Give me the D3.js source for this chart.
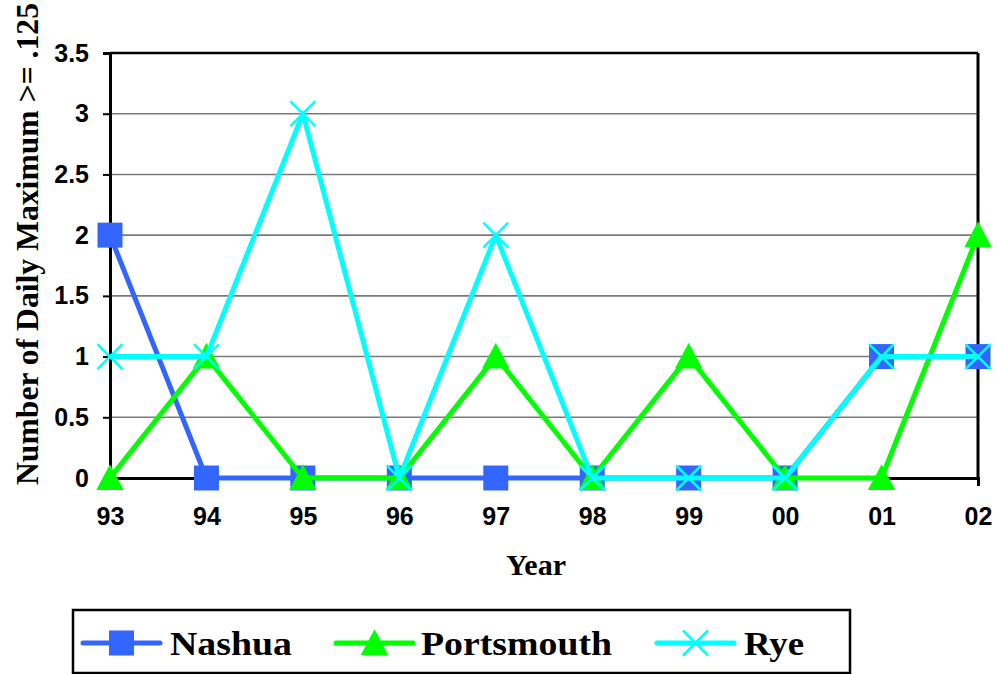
<!DOCTYPE html>
<html>
<head>
<meta charset="utf-8">
<script src="https://cdn.jsdelivr.net/npm/d3@7"></script>
<style>
  html, body { margin: 0; padding: 0; background: #fff; }
  svg { display: block; }
</style>
</head>
<body>
<svg id="chart" width="998" height="674"></svg>
<script>
const categories = ["93", "94", "95", "96", "97", "98", "99", "00", "01", "02"];
const nashua     = [2, 0, 0, 0, 0, 0, 0, 0, 1, 1];
const portsmouth = [0, 1, 0, 0, 1, 0, 1, 0, 0, 2];
const rye        = [1, 1, 3, 0, 2, 0, 0, 0, 1, 1];
const yTicks = [0, 0.5, 1, 1.5, 2, 2.5, 3, 3.5];
const yTickLabels = ["0", "0.5", "1", "1.5", "2", "2.5", "3", "3.5"];
const seriesNames = ["Nashua", "Portsmouth", "Rye"];

const series = [
  { name: seriesNames[0], values: nashua, color: "#3366FF", marker: "square" },
  { name: seriesNames[1], values: portsmouth, color: "#00FF00", marker: "triangle" },
  { name: seriesNames[2], values: rye, color: "#00FFFF", marker: "x" }
];

const svg = d3.select("#chart");
const L = 110, R = 978, T = 53, B = 478;

const x = d3.scalePoint().domain(categories).range([L, R]).padding(0);
const y = d3.scaleLinear().domain([0, 3.5]).range([B, T]);

// gridlines
svg.append("g").selectAll("line").data(yTicks.filter(d => d > 0 && d < 3.5)).join("line")
  .attr("x1", L).attr("x2", R)
  .attr("y1", d => y(d)).attr("y2", d => y(d))
  .attr("stroke", "#7a7a7a").attr("stroke-width", 1.6);

// top and right border
svg.append("line").attr("x1", L).attr("x2", R).attr("y1", y(3.5)).attr("y2", y(3.5))
  .attr("stroke", "#000").attr("stroke-width", 2.5);
svg.append("line").attr("x1", R).attr("x2", R).attr("y1", T).attr("y2", B)
  .attr("stroke", "#000").attr("stroke-width", 3);

// y axis
const yAxis = d3.axisLeft(y).tickValues(yTicks)
  .tickFormat((d, i) => yTickLabels[i]).tickSize(7).tickPadding(14);
const gy = svg.append("g").attr("transform", `translate(${L},0)`).call(yAxis);
gy.select(".domain").attr("stroke", "#000").attr("stroke-width", 3);
gy.selectAll(".tick line").attr("stroke", "#000").attr("stroke-width", 2);
gy.selectAll(".tick text")
  .attr("font-family", "'Liberation Sans', Arial, sans-serif")
  .attr("font-weight", "bold").attr("font-size", 25).attr("fill", "#000");

// x axis
const xAxis = d3.axisBottom(x).tickSize(8).tickPadding(21);
const gx = svg.append("g").attr("transform", `translate(0,${B})`).call(xAxis);
gx.select(".domain").attr("stroke", "#000").attr("stroke-width", 3);
gx.selectAll(".tick line").attr("stroke", "#000").attr("stroke-width", 3);
gx.selectAll(".tick text")
  .attr("font-family", "'Liberation Sans', Arial, sans-serif")
  .attr("font-weight", "bold").attr("font-size", 25).attr("fill", "#000");

// titles
svg.append("text")
  .attr("transform", `translate(38,485) rotate(-90)`)
  .attr("text-anchor", "start")
  .attr("font-family", "'Liberation Serif', 'Times New Roman', serif")
  .attr("font-weight", "bold").attr("font-size", 31).attr("fill", "#000")
  .attr("textLength", 482).attr("lengthAdjust", "spacingAndGlyphs")
  .text("Number of Daily Maximum >= .125");

svg.append("text")
  .attr("x", 536).attr("y", 575)
  .attr("text-anchor", "middle")
  .attr("font-family", "'Liberation Serif', 'Times New Roman', serif")
  .attr("font-weight", "bold").attr("font-size", 30).attr("fill", "#000")
  .text("Year");

function drawMarker(g, type, cx, cy, color, s) {
  if (type === "square") {
    g.append("rect").attr("x", cx - s / 2).attr("y", cy - s / 2)
      .attr("width", s).attr("height", s).attr("fill", color);
  } else if (type === "triangle") {
    const h = s;
    g.append("path")
      .attr("d", `M${cx},${cy - h * 0.55} L${cx + s * 0.55},${cy + h * 0.48} L${cx - s * 0.55},${cy + h * 0.48} Z`)
      .attr("fill", color);
  } else {
    const r = s / 2;
    g.append("path")
      .attr("d", `M${cx - r},${cy - r} L${cx + r},${cy + r} M${cx - r},${cy + r} L${cx + r},${cy - r}`)
      .attr("stroke", color).attr("stroke-width", 2.5).attr("fill", "none");
  }
}

const line = d3.line().x((d, i) => x(categories[i])).y(d => y(d));

series.forEach(s => {
  const g = svg.append("g");
  g.append("path").datum(s.values).attr("d", line)
    .attr("fill", "none").attr("stroke", s.color).attr("stroke-width", 5)
    .attr("stroke-linejoin", "round");
  s.values.forEach((v, i) => drawMarker(g, s.marker, x(categories[i]), y(v), s.color, 25));
});

// legend
const lg = svg.append("g");
lg.append("rect").attr("x", 73).attr("y", 610).attr("width", 777).attr("height", 63)
  .attr("fill", "#fff").attr("stroke", "#000").attr("stroke-width", 2.5);

const legendItems = [
  { lx: 83, tx: 170, tw: 122 },
  { lx: 336, tx: 421, tw: 191 },
  { lx: 657, tx: 744, tw: 60 }
];
series.forEach((s, i) => {
  const it = legendItems[i];
  const cy = 643;
  lg.append("line").attr("x1", it.lx).attr("x2", it.lx + 77).attr("y1", cy).attr("y2", cy)
    .attr("stroke", s.color).attr("stroke-width", 5).attr("stroke-linecap", "round");
  drawMarker(lg, s.marker, it.lx + 38.5, cy, s.color, 25);
  lg.append("text").attr("x", it.tx).attr("y", 655)
    .attr("font-family", "'Liberation Serif', 'Times New Roman', serif")
    .attr("font-weight", "bold").attr("font-size", 34).attr("fill", "#000")
    .attr("textLength", it.tw).attr("lengthAdjust", "spacingAndGlyphs")
    .text(s.name);
});
</script>
</body>
</html>
